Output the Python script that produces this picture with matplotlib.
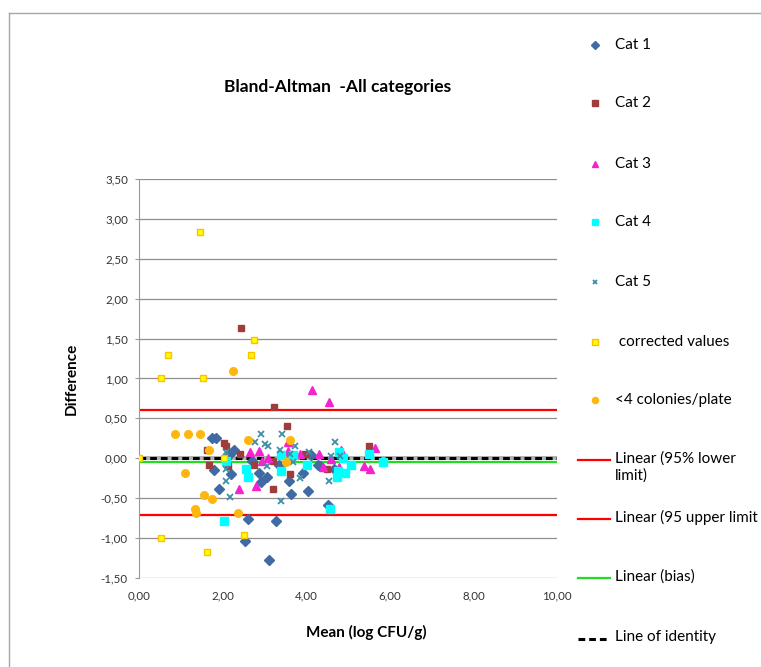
import matplotlib
matplotlib.use('Agg')
import matplotlib.pyplot as plt
from matplotlib.lines import Line2D
from matplotlib.ticker import FuncFormatter, MultipleLocator

plt.rcParams['font.family'] = ['Lato', 'DejaVu Sans']

# series (mean, difference)
cat1_x = [1.75, 1.84, 2.28, 2.16, 1.80, 2.20, 1.92, 2.71, 2.87, 3.07, 2.92, 3.35, 3.59,
          3.64, 3.93, 4.05, 4.12, 4.29, 4.67, 4.53, 2.61, 3.28, 2.54, 3.11, 4.34]
cat1_y = [0.25, 0.25, 0.10, 0.04, -0.15, -0.20, -0.38, -0.04, -0.19, -0.23, -0.30, -0.08, -0.29,
          -0.45, -0.19, -0.41, 0.04, -0.09, -0.13, -0.59, -0.76, -0.79, -1.04, -1.28, -0.10]

cat2_x = [2.44, 3.23, 3.54, 2.04, 2.08, 1.63, 2.42, 1.68, 2.13, 2.75, 3.21, 3.62, 3.21,
          3.98, 4.50, 5.51]
cat2_y = [1.63, 0.64, 0.41, 0.19, 0.16, 0.10, 0.05, -0.09, -0.10, -0.08, -0.03, -0.20, -0.38,
          0.06, -0.13, 0.15]

cat3_x = [4.14, 4.55, 2.66, 2.87, 3.09, 2.95, 3.57, 3.57, 3.86, 4.31, 4.41, 2.40, 2.80,
          4.84, 4.60, 4.79, 5.39, 5.53, 5.65]
cat3_y = [0.85, 0.70, 0.08, 0.09, 0.00, -0.03, 0.20, 0.09, 0.06, 0.05, -0.11, -0.38, -0.35,
          0.11, -0.01, -0.11, -0.10, -0.14, 0.13]

cat4_x = [2.56, 2.61, 2.04, 2.08, 3.40, 3.69, 3.40, 4.02, 4.57, 4.79, 4.89, 5.08, 4.77,
          4.93, 4.74, 5.51, 5.84]
cat4_y = [-0.14, -0.23, -0.78, -0.04, 0.04, 0.04, -0.16, -0.08, -0.64, 0.08, 0.00, -0.08, -0.16,
          -0.18, -0.23, 0.06, -0.05]

cat5_x = [2.92, 3.43, 2.78, 3.02, 3.09, 3.74, 3.38, 2.08, 4.07, 2.08, 3.07, 2.08, 2.18,
          3.40, 3.86, 4.55, 4.69, 4.60, 4.81, 3.62, 3.69]
cat5_y = [0.30, 0.31, 0.20, 0.18, 0.15, 0.15, 0.11, 0.08, 0.08, -0.13, -0.10, -0.28, -0.48,
          -0.53, -0.25, -0.28, 0.20, 0.03, 0.03, 0.05, -0.05]

corr_x = [1.46, 2.75, 0.69, 2.68, 0.53, 1.53, 0.0, 2.04, 0.53, 2.51, 1.63]
corr_y = [2.84, 1.48, 1.30, 1.30, 1.00, 1.00, 0.0, 0.0, -1.00, -0.96, -1.18]

low_x = [2.25, 0.86, 1.17, 1.46, 2.61, 3.62, 1.68, 1.10, 1.56, 1.75, 1.34, 1.37, 2.37, 3.52]
low_y = [1.09, 0.30, 0.30, 0.30, 0.23, 0.23, 0.11, -0.18, -0.46, -0.51, -0.64, -0.69, -0.69, -0.05]

upper_limit = 0.61
lower_limit = -0.71
bias = -0.05
x_range = [0, 10]

W, H = 761, 667
fig = plt.figure(figsize=(W / 100, H / 100), dpi=100)
ax = fig.add_axes([139 / W, 1 - 578 / H, 418 / W, 399 / H])

ax.set_xlim(0, 10)
ax.set_ylim(-1.5, 3.5)
ax.xaxis.set_major_locator(MultipleLocator(2))
ax.yaxis.set_major_locator(MultipleLocator(0.5))
fmt = FuncFormatter(lambda v, _: f"{v:.2f}".replace('.', ','))
ax.xaxis.set_major_formatter(fmt)
ax.yaxis.set_major_formatter(fmt)
ax.grid(axis='y', color='#8f8f8f', lw=0.9, zorder=0)
ax.set_axisbelow(True)
for s in ['top', 'right', 'bottom']:
    ax.spines[s].set_visible(False)
ax.spines['left'].set_color('#999999')
ax.tick_params(axis='y', length=3, color='#999999', pad=5, labelsize=8.3, labelcolor='#333333')
ax.tick_params(axis='x', length=0, pad=9, labelsize=8.3, labelcolor='#333333')

# horizontal axis crosses at 0
ax.axhline(0, color='#b0b0b0', lw=2.8, zorder=1)

series = [
    (cat1_x, cat1_y, dict(marker='D', ms=5.0, color='#3f6aa3', mec='#3f6aa3')),
    (cat2_x, cat2_y, dict(marker='s', ms=4.6, color='#9e3d3b', mec='#9e3d3b')),
    (cat3_x, cat3_y, dict(marker='^', ms=5.2, color='#f522d0', mec='#f522d0')),
    (cat4_x, cat4_y, dict(marker='s', ms=5.6, color='#00ffff', mec='#00ffff')),
    (cat5_x, cat5_y, dict(marker='x', ms=4.0, mew=1.3, color='#3e8ea8')),
    (corr_x, corr_y, dict(marker='s', ms=5.0, color='#ffff00', mec='#ffc000', mew=1.0)),
    (low_x, low_y, dict(marker='o', ms=5.5, color='#ffb70f', mec='#ffb70f')),
]
for xs, ys, st in series:
    ax.plot(xs, ys, ls='none', zorder=3, **st)

ax.plot(x_range, [lower_limit] * 2, color='#ff0000', lw=1.6, zorder=2)
ax.plot(x_range, [upper_limit] * 2, color='#ff0000', lw=1.6, zorder=2)
ax.plot(x_range, [bias] * 2, color='#22dd22', lw=1.6, zorder=2)
ax.plot(x_range, [0, 0], color='black', lw=2.2, dashes=(2.2, 1.3), zorder=2)

ax.set_xlabel('Mean (log CFU/g)', fontsize=11, fontweight='bold')
ax.xaxis.set_label_coords((366 - 139) / 418, (578 - 625) / 399)
ax.set_ylabel('Difference', fontsize=11, fontweight='bold')
ax.yaxis.set_label_coords((79 - 139) / 418, 0.5)

fig.text(338 / W, 1 - 87 / H, 'Bland-Altman  -All categories', ha='center', va='center',
         fontsize=12.5, fontweight='bold')

# chart area border
fig.add_artist(Line2D([9 / W, 9 / W], [0, 1 - 13 / H], color='#a6a6a6', lw=1))
fig.add_artist(Line2D([9 / W, 1], [1 - 13 / H, 1 - 13 / H], color='#a6a6a6', lw=1))

# legend
labels = ['Cat 1', 'Cat 2', 'Cat 3', 'Cat 4', 'Cat 5', ' corrected values', '<4 colonies/plate']
rows = [45, 103, 164, 222, 282, 342, 400]
for (xs, ys, st), lab, r in zip(series, labels, rows):
    st2 = dict(st)
    st2['ms'] = st2['ms'] * 0.8
    fig.add_artist(Line2D([595 / W], [1 - r / H], ls='none', **st2))
    fig.text(615 / W, 1 - r / H, lab, va='center', fontsize=11)

line_entries = [
    ('Linear (95% lower\nlimit)', 460, dict(color='#ff0000', lw=1.6)),
    ('Linear (95 upper limit', 519, dict(color='#ff0000', lw=1.6)),
    ('Linear (bias)', 578, dict(color='#22dd22', lw=1.6)),
    ('Line of identity', 639, dict(color='black', lw=2.2, dashes=(2.2, 1.3))),
]
for lab, r, st in line_entries:
    fig.add_artist(Line2D([578 / W, 610 / W], [1 - r / H] * 2, **st))
    fig.text(615 / W, 1 - (r - 9) / H, lab, va='top', fontsize=11, linespacing=1.3)

fig.savefig('out.png', dpi=100)
